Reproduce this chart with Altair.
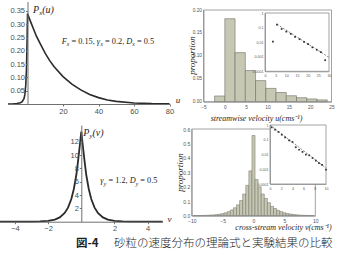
import altair as alt
import pandas as pd

SERIF = "Liberation Serif"
SANS = "Liberation Sans"
CJK = "Noto Sans CJK JP"
INK = "#1e1e1e"
CURVE = "#2b2b2b"
MATH_AXIS = "#707070"
MATH_LABEL = "#4d4d4d"
BOX = "#8c8c8c"
BOX_LABEL = "#555555"
BAR_FILL = "#c7c8b3"
BAR_EDGE = "#6f6f63"
W, H = 342, 256

# ---------------- theoretical streamwise distribution P_x(u)
px_u = [-11, -8, -6, -4, -3, -2, -1.5, -1.0, -0.6, -0.3, 0, 1, 2, 3.5, 5, 7.5, 10,
        12.5, 15, 20, 25, 30, 35, 40, 45, 50, 60, 70, 80]
px_p = [0.0, 0.001, 0.002, 0.005, 0.009, 0.02, 0.035, 0.07, 0.13, 0.22, 0.34, 0.322,
        0.305, 0.28, 0.255, 0.222, 0.19, 0.163, 0.14, 0.103, 0.075, 0.053, 0.036,
        0.024, 0.015, 0.010, 0.004, 0.0015, 0.0005]
px_xticks = [20, 40, 60, 80]
px_yticks = [0.05, 0.10, 0.15, 0.20, 0.25, 0.30, 0.35]

# ---------------- measured streamwise histogram
su_edges = [-2.4, 0.0, 2.4, 4.8, 7.2, 9.6, 12.0, 14.4, 16.8, 19.2, 21.6, 24.0]
su_prop = [0.0125, 0.181, 0.107, 0.068, 0.046, 0.029, 0.020, 0.013, 0.0087, 0.006, 0.004]
su_xticks = [-5, 0, 5, 10, 15, 20, 25]
su_yticks = [0.00, 0.05, 0.10, 0.15, 0.20]

# semi-log view of the streamwise tail
su_tail_u = [3.7, 5.6, 7.8, 10.0, 12.1, 14.1, 16.2, 18.3, 20.2, 22.2, 24.3, 26.2, 28.2]
su_tail_p = [0.011, 0.16, 0.080, 0.053, 0.037, 0.023, 0.016, 0.0105, 0.0073, 0.0044,
             0.0030, 0.0021, 0.00058]
su_fit_u = [5.6, 30.0]
su_fit_p = [0.17, 0.0009]
su_tail_xticks = [0, 5, 10, 15, 20, 25, 30]
log_ticks = [1, 0.1, 0.01, 0.001, 0.0001]

# ---------------- theoretical cross-stream distribution P_y(v)
py_v = [-4.9, -4.0, -3.0, -2.5, -2.0, -1.6, -1.3, -1.0, -0.8, -0.6, -0.45, -0.3, -0.2,
        -0.1, -0.04, 0.0, 0.04, 0.1, 0.2, 0.3, 0.45, 0.6, 0.8, 1.0, 1.3, 1.6, 2.0, 2.5,
        3.0, 4.0, 4.9]
py_p = [0.0, 0.002, 0.012, 0.04, 0.13, 0.32, 0.65, 1.3, 2.1, 3.4, 4.9, 7.0, 9.0, 11.2,
        12.6, 13.5, 12.6, 11.2, 9.0, 7.0, 4.9, 3.4, 2.1, 1.3, 0.65, 0.32, 0.13, 0.04,
        0.012, 0.002, 0.0]
py_xticks = [-4, -2, 2, 4]
py_yticks = [2, 4, 6, 8, 10, 12]

# ---------------- measured cross-stream histogram (0.5 cm/s bins)
sv_center = [-9.5, -9.0, -8.5, -8.0, -7.5, -7.0, -6.5, -6.0, -5.5, -5.0, -4.5, -4.0,
             -3.5, -3.0, -2.5, -2.0, -1.5, -1.0, -0.5, 0.0, 0.5, 1.0, 1.5, 2.0, 2.5,
             3.0, 3.5, 4.0, 4.5, 5.0, 5.5, 6.0, 6.5, 7.0, 7.5, 8.0, 8.5, 9.0, 9.5]
sv_prop = [0.001, 0.001, 0.0015, 0.002, 0.003, 0.004, 0.005, 0.007, 0.010, 0.014, 0.02,
           0.028, 0.04, 0.055, 0.075, 0.105, 0.15, 0.21, 0.31, 0.555, 0.25, 0.20, 0.15,
           0.12, 0.09, 0.065, 0.05, 0.037, 0.028, 0.02, 0.015, 0.011, 0.008, 0.006,
           0.004, 0.003, 0.002, 0.0015, 0.001]
sv_bin = 0.5
sv_xticks = [-10, -5, 0, 5, 10]
sv_yticks = [0.0, 0.1, 0.2, 0.3, 0.4, 0.5, 0.6]

# semi-log view of the cross-stream tail
sv_tail_v = [0.3, 0.9, 1.5, 2.1, 2.7, 3.4, 4.0, 4.6, 5.2, 5.8, 6.4, 7.0, 7.6, 8.2, 8.75,
             9.3, 10.0]
sv_tail_p = [0.69, 0.48, 0.34, 0.22, 0.145, 0.092, 0.071, 0.031, 0.021, 0.015, 0.0098,
             0.0088, 0.0058, 0.0038, 0.0026, 0.002, 0.00093]
sv_fit_v = [0.0, 10.0]
sv_fit_p = [1.0, 0.0012]
sv_tail_xticks = [0, 2, 4, 6, 8, 10]

caption_no = "図-4"
caption = "砂粒の速度分布の理論式と実験結果の比較"

# ---------------- pixel placement of each panel's scales
def lin(domain, rng):
    return alt.Scale(domain=domain, range=rng, nice=False, zero=False)


def logs(domain, rng):
    return alt.Scale(type="log", domain=domain, range=rng, nice=False)


A_X, A_Y = lin([-11, 80], [8, 169.5]), lin([0, 0.385], [104, 1.6])
B_X, B_Y = lin([-5, 25], [203.5, 331.5]), lin([0, 0.2], [101.7, 10])
BI_X, BI_Y = lin([0, 30], [265, 329]), logs([1e-4, 1], [71.3, 13])
C_X, C_Y = lin([-4.9, 4.9], [0, 162.6]), lin([0, 14.5], [221.7, 125])
D_X, D_Y = lin([-10, 10], [191.7, 315.3]), lin([0, 0.6], [215.7, 129])
DI_X, DI_Y = lin([0, 10], [270, 326]), logs([1e-4, 1], [184, 125])


def math_axis(orient, offset, values, fmt):
    return alt.Axis(orient=orient, offset=offset, values=values, format=fmt, grid=False,
                    ticks=True, tickSize=2, tickColor=MATH_AXIS, domainColor=MATH_AXIS,
                    domainWidth=1, labelFont=SANS, labelFontSize=7.5,
                    labelColor=MATH_LABEL, labelPadding=1, labelFlush=False,
                    labelOverlap=False, title=None, zindex=1)


def box_axis(orient, offset, values, fmt, size, title=None, tx=0, ty=0, tsize=8, pad=2):
    kw = dict(orient=orient, offset=offset, values=values, format=fmt, grid=False,
              ticks=False, domainColor=BOX, domainWidth=0.8, labelFont=SANS,
              labelFontSize=size, labelColor=BOX_LABEL, labelPadding=pad,
              labelFlush=False, labelOverlap=False, zindex=1)
    if title is None:
        kw["title"] = None
    else:
        kw.update(title=title, titleX=tx, titleY=ty, titleFont=SERIF,
                  titleFontStyle="italic", titleFontWeight="normal",
                  titleFontSize=tsize, titleColor=INK, titleAlign="center",
                  titleBaseline="middle")
        if orient == "left":
            kw["titleAngle"] = 270
    return alt.Axis(**kw)


# glyph advance widths (em) for the serif annotations
ADV = {"P": .611, "F": .611, "D": .722, "x": .444, "y": .444, "u": .5, "v": .444,
       "(": .333, ")": .333, "γ": .44, "=": .564, " ": .25, ",": .25, ".": .25}


def adv(s, size):
    return sum(ADV.get(c, 0.5) for c in s) * size


def rich(xv, yv, segs, sx, sy, size):
    """Formula text with subscripts, anchored at a data position."""
    out, dx = [], 0.0
    for text, sub, ital in segs:
        fs = size * 0.68 if sub else size
        lead = len(text) - len(text.lstrip())
        body = text.strip()
        out.append(
            alt.Chart(pd.DataFrame({"x": [xv], "y": [yv], "t": [body]}))
            .mark_text(align="left", baseline="middle", dx=dx + adv(" " * lead, fs),
                       dy=size * 0.3 if sub else 0, font=SERIF, fontSize=fs,
                       fontStyle="italic" if ital else "normal", color=INK)
            .encode(x=alt.X("x:Q", scale=sx, axis=None),
                    y=alt.Y("y:Q", scale=sy, axis=None), text="t:N")
        )
        dx += adv(text, fs)
    return out


def label(xv, yv, text, sx, sy, size=9):
    return (alt.Chart(pd.DataFrame({"x": [xv], "y": [yv], "t": [text]}))
            .mark_text(align="left", baseline="middle", font=SERIF, fontSize=size,
                       fontStyle="italic", color=INK)
            .encode(x=alt.X("x:Q", scale=sx, axis=None),
                    y=alt.Y("y:Q", scale=sy, axis=None), text="t:N"))


def box(x0, x1, y0, y1, sx, sy, fill_opacity):
    return (alt.Chart(pd.DataFrame({"x0": [x0], "x1": [x1], "y0": [y0], "y1": [y1]}))
            .mark_rect(fill="white", fillOpacity=fill_opacity, stroke=BOX,
                       strokeWidth=0.8)
            .encode(x=alt.X("x0:Q", scale=sx, axis=None), x2="x1",
                    y=alt.Y("y0:Q", scale=sy, axis=None), y2="y1"))


# ---------------- panel A: P_x(u)
a_df = pd.DataFrame({"u": px_u, "p": px_p})
panel_a = [
    alt.Chart(a_df).mark_line(color=CURVE, strokeWidth=1.6).encode(
        x=alt.X("u:Q", scale=A_X, axis=math_axis("bottom", 104 - H, px_xticks, "d")),
        y=alt.Y("p:Q", scale=A_Y, axis=math_axis("left", -27.5, px_yticks, ".2f")),
    ),
    *rich(3.1, 0.353, [("P", False, True), ("x", True, True), ("(u)", False, True)],
          A_X, A_Y, 10),
    *rich(19.3, 0.234, [("F", False, True), ("x", True, True), (" = 0.15, ", False, False),
                        ("γ", False, True), ("x", True, True), (" = 0.2, ", False, False),
                        ("D", False, True), ("x", True, True), (" = 0.5", False, False)],
          A_X, A_Y, 8.3),
    label(83.5, 0.014, "u", A_X, A_Y, 9),
]

# ---------------- panel B: streamwise histogram
b_df = pd.DataFrame({"lo": su_edges[:-1], "hi": su_edges[1:], "p": su_prop})
panel_b = [
    alt.Chart(b_df).mark_rect(fill=BAR_FILL, stroke=BAR_EDGE, strokeWidth=0.6).encode(
        x=alt.X("lo:Q", scale=B_X,
                axis=box_axis("bottom", 101.7 - H, su_xticks, "d", 4.8,
                              "streamwise velocity u(cms⁻¹)", 256, 16.5, 8, pad=2.5)),
        x2="hi:Q",
        y=alt.Y("p:Q", scale=B_Y,
                axis=box_axis("left", -203.5, su_yticks, ".2f", 4.8,
                              "proportion", 191 - 203.5, 55, 9)),
        y2=alt.datum(0),
    ),
    box(su_xticks[0], su_xticks[-1], su_yticks[0], su_yticks[-1], B_X, B_Y, 0),
]

bt_df = pd.DataFrame({"u": su_tail_u, "p": su_tail_p})
bf_df = pd.DataFrame({"u": su_fit_u, "p": su_fit_p})
panel_b_inset = [
    box(su_tail_xticks[0], su_tail_xticks[-1], log_ticks[-1], log_ticks[0], BI_X, BI_Y, 1),
    alt.Chart(bf_df).mark_line(color="#666666", strokeWidth=0.8, strokeDash=[2, 1.5]).encode(
        x=alt.X("u:Q", scale=BI_X, axis=None), y=alt.Y("p:Q", scale=BI_Y, axis=None)),
    alt.Chart(bt_df).mark_square(color="#333333", size=3, opacity=1).encode(
        x=alt.X("u:Q", scale=BI_X,
                axis=box_axis("bottom", 71.3 - H, su_tail_xticks, "d", 3.6)),
        y=alt.Y("p:Q", scale=BI_Y,
                axis=box_axis("left", -265, log_ticks, "~g", 3.6)),
    ),
]

# ---------------- panel C: P_y(v)
c_df = pd.DataFrame({"v": py_v, "p": py_p})
panel_c = [
    alt.Chart(c_df).mark_line(color=CURVE, strokeWidth=1.8).encode(
        x=alt.X("v:Q", scale=C_X, axis=math_axis("bottom", 221.7 - H, py_xticks, "d")),
        y=alt.Y("p:Q", scale=C_Y, axis=math_axis("left", -81.3, py_yticks, "d")),
    ),
    *rich(0.12, 13.3, [("P", False, True), ("y", True, True), ("(v)", False, True)],
          C_X, C_Y, 10),
    *rich(1.14, 6.1, [("γ", False, True), ("y", True, True), (" = 1.2, ", False, False),
                      ("D", False, True), ("y", True, True), (" = 0.5", False, False)],
          C_X, C_Y, 8.3),
    label(5.2, 0.4, "v", C_X, C_Y, 9),
]

# ---------------- panel D: cross-stream histogram
d_df = pd.DataFrame({"c": sv_center, "p": sv_prop})
panel_d = [
    alt.Chart(d_df).transform_calculate(
        lo=f"datum.c - {sv_bin / 2}", hi=f"datum.c + {sv_bin / 2}"
    ).mark_rect(fill=BAR_FILL, stroke=BAR_EDGE, strokeWidth=0.5).encode(
        x=alt.X("lo:Q", scale=D_X,
                axis=box_axis("bottom", 215.7 - H, sv_xticks, "d", 5,
                              "cross-stream velocity v(cms⁻¹)", 283, 11.8, 8, pad=3.2)),
        x2="hi:Q",
        y=alt.Y("p:Q", scale=D_Y,
                axis=box_axis("left", -191.7, sv_yticks, ".1f", 5,
                              "proportion", 179.5 - 191.7, 172, 9)),
        y2=alt.datum(0),
    ),
    box(sv_xticks[0], sv_xticks[-1], sv_yticks[0], sv_yticks[-1], D_X, D_Y, 0),
]

dt_df = pd.DataFrame({"v": sv_tail_v, "p": sv_tail_p})
df_df = pd.DataFrame({"v": sv_fit_v, "p": sv_fit_p})
panel_d_inset = [
    box(sv_tail_xticks[0], sv_tail_xticks[-1], log_ticks[-1], log_ticks[0], DI_X, DI_Y, 1),
    alt.Chart(df_df).mark_line(color="#666666", strokeWidth=0.8, strokeDash=[2, 1.5]).encode(
        x=alt.X("v:Q", scale=DI_X, axis=None), y=alt.Y("p:Q", scale=DI_Y, axis=None)),
    alt.Chart(dt_df).mark_square(color="#333333", size=3, opacity=1).encode(
        x=alt.X("v:Q", scale=DI_X,
                axis=box_axis("bottom", 184 - H, sv_tail_xticks, "d", 3.6)),
        y=alt.Y("p:Q", scale=DI_Y,
                axis=box_axis("left", -270, log_ticks, "~g", 3.6)),
    ),
]

# ---------------- figure caption
cap_no = alt.Chart(pd.DataFrame({"t": [caption_no]})).mark_text(
    align="left", baseline="middle", font=CJK, fontSize=11.5, fontWeight="bold", color=INK
).encode(x=alt.value(76), y=alt.value(243.5), text="t:N")
cap_text = alt.Chart(pd.DataFrame({"t": [caption]})).mark_text(
    align="left", baseline="middle", font=CJK, fontSize=11.5, fontWeight=300, color=INK
).encode(x=alt.value(114), y=alt.value(243.5), text="t:N")

# every panel element gets its own (identically specified) scales
chart = (
    alt.layer(*panel_a, *panel_b, *panel_b_inset, *panel_c, *panel_d, *panel_d_inset,
              cap_no, cap_text)
    .resolve_scale(x="independent", y="independent")
    .resolve_axis(x="independent", y="independent")
    .properties(width=W, height=H, padding=0, background="white",
                autosize=alt.AutoSizeParams(type="none"))
    .configure_view(stroke=None)
)

chart.save("out.html", embed_options={"renderer": "svg", "actions": False})
